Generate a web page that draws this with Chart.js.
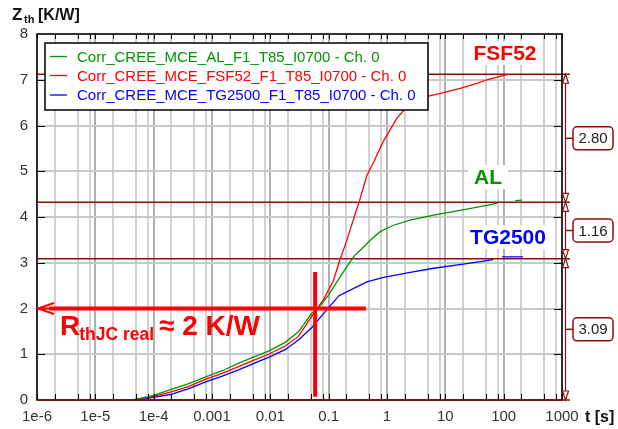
<!DOCTYPE html>
<html>
<head>
<meta charset="utf-8">
<script src="https://cdn.jsdelivr.net/npm/chart.js@4.4.0/dist/chart.umd.min.js"></script>
<style>
  html, body { margin: 0; padding: 0; background: #fff; }
  canvas { display: block; }
</style>
</head>
<body>
<canvas id="zthChart" width="618" height="429"></canvas>
<script>
// Zth curves: time in s, Zth in K/W (null = gap in the trace)
var alTime = [4.2e-5, 5.5e-5, 1e-4, 2e-4, 4e-4, 7.6e-4, 1.5e-3, 2.84e-3, 5e-3, 9.3e-3, 0.018, 0.0303, 0.051, 0.0714, 0.1, 0.157, 0.266, 0.4, 0.515, 0.764, 1.29, 2.5, 6.3, 23.4, 76.7, 120, 158, 206];
var alZth = [0, 0.03, 0.10, 0.23, 0.36, 0.50, 0.64, 0.80, 0.93, 1.07, 1.26, 1.49, 1.89, 2.06, 2.30, 2.69, 3.13, 3.35, 3.49, 3.68, 3.82, 3.93, 4.04, 4.17, 4.30, null, 4.36, 4.37];

var fsfTime = [4.5e-5, 1e-4, 2e-4, 4e-4, 7.6e-4, 1.5e-3, 2.84e-3, 5e-3, 9.3e-3, 0.018, 0.0303, 0.051, 0.082, 0.12, 0.15, 0.2, 0.274, 0.33, 0.45, 0.6, 0.87, 1.48, 2.2, 3.7, 8.2, 18, 34.6, 52, 89, 120];
var fsfZth = [0, 0.08, 0.18, 0.30, 0.45, 0.58, 0.73, 0.86, 1.00, 1.18, 1.39, 1.82, 2.20, 2.60, 3.00, 3.45, 4.00, 4.31, 4.90, 5.22, 5.66, 6.16, 6.41, 6.60, 6.70, 6.81, 6.92, 7.00, 7.08, 7.12];

var tgTime = [5e-5, 1e-4, 2e-4, 4e-4, 7.6e-4, 1.5e-3, 2.84e-3, 5e-3, 9.3e-3, 0.018, 0.0303, 0.051, 0.0714, 0.1, 0.15, 0.234, 0.452, 0.87, 2.5, 6.3, 23.4, 66, 80, 94, 214];
var tgZth = [0, 0.06, 0.125, 0.25, 0.39, 0.52, 0.66, 0.79, 0.93, 1.10, 1.31, 1.58, 1.80, 2.02, 2.28, 2.40, 2.58, 2.68, 2.79, 2.88, 2.98, 3.07, null, 3.13, 3.13];

var seriesLabels = [
  'Corr_CREE_MCE_AL_F1_T85_I0700 - Ch. 0',
  'Corr_CREE_MCE_FSF52_F1_T85_I0700 - Ch. 0',
  'Corr_CREE_MCE_TG2500_F1_T85_I0700 - Ch. 0'
];
var seriesColors = ['#009600', '#ff0000', '#0000ff'];
var curveNames = ['AL', 'FSF52', 'TG2500'];

// x axis: decades with minor lines at 2, 5, 8
var decadeValues = [1e-6, 1e-5, 1e-4, 1e-3, 0.01, 0.1, 1, 10, 100, 1000];
var decadeLabels = ['1e-6', '1e-5', '1e-4', '0.001', '0.01', '0.1', '1', '10', '100', '1000'];
var minorSteps = [2, 5, 8];

// steady-state levels (K/W) and the differences written in the boxes
var levelFSF = 7.12;
var levelAL = 4.32;
var levelTG = 3.09;
var stepLabels = ['2.80', '1.16', '3.09'];

// Rth,JC read-out
var rthTime = 0.0586;
var rthValue = 2;
var rthArrowEnd = 0.435;

var FONT = '"Liberation Sans", Arial, sans-serif';
var DARKRED = '#8b0f0f';

function pts(xs, ys) {
  return xs.map(function(x, i) { return { x: x, y: ys[i] }; });
}

var decor = {
  id: 'decor',
  // level lines sit under the traces
  beforeDatasetsDraw: function(chart) {
    var c = chart.ctx;
    var a = chart.chartArea;
    var ys = chart.scales.y;
    c.save();
    c.strokeStyle = DARKRED;
    c.lineWidth = 1.5;
    [levelFSF, levelAL, levelTG].forEach(function(l) {
      var py = ys.getPixelForValue(l);
      c.beginPath(); c.moveTo(a.left, py); c.lineTo(a.right + 8, py); c.stroke();
    });
    c.restore();
  },
  afterDatasetsDraw: function(chart) {
    var c = chart.ctx;
    var a = chart.chartArea;
    var xs = chart.scales.x, ys = chart.scales.y;
    c.save();

    // frame
    c.strokeStyle = '#000';
    c.lineWidth = 1.5;
    c.strokeRect(a.left, a.top, a.right - a.left, a.bottom - a.top);

    // inner tick marks
    c.lineWidth = 1;
    c.beginPath();
    xs.ticks.forEach(function(t) {
      var px = Math.round(xs.getPixelForValue(t.value)) + 0.5;
      c.moveTo(px, a.bottom); c.lineTo(px, a.bottom - 6);
      c.moveTo(px, a.top); c.lineTo(px, a.top + 5);
    });
    for (var v = 1; v < 8; v++) {
      var py = Math.round(ys.getPixelForValue(v)) + 0.5;
      c.moveTo(a.left, py); c.lineTo(a.left + 8, py);
      c.moveTo(a.right, py); c.lineTo(a.right - 8, py);
    }
    c.stroke();

    // zero level
    c.strokeStyle = DARKRED;
    c.lineWidth = 1.5;
    var p0 = ys.getPixelForValue(0);
    c.beginPath(); c.moveTo(a.left, p0); c.lineTo(a.right + 8, p0); c.stroke();

    // dimension line on the right
    var bx = a.right + 3.5;
    c.lineWidth = 1.2;
    c.beginPath();
    c.moveTo(bx, ys.getPixelForValue(levelFSF));
    c.lineTo(bx, ys.getPixelForValue(0));
    c.stroke();
    function tri(py, up) {
      var d = up ? 1 : -1;
      c.beginPath();
      c.moveTo(bx, py);
      c.lineTo(bx - 3, py + d * 9);
      c.lineTo(bx + 3, py + d * 9);
      c.closePath();
      c.fillStyle = '#fff'; c.fill();
      c.stroke();
    }
    tri(ys.getPixelForValue(levelFSF), true);
    tri(ys.getPixelForValue(levelAL), false);
    tri(ys.getPixelForValue(levelAL), true);
    tri(ys.getPixelForValue(levelTG), false);
    tri(ys.getPixelForValue(levelTG), true);
    tri(ys.getPixelForValue(0), false);

    var spans = [[levelFSF, levelAL], [levelAL, levelTG], [levelTG, 0]];
    spans.forEach(function(s, i) {
      var cy = (ys.getPixelForValue(s[0]) + ys.getPixelForValue(s[1])) / 2;
      c.strokeStyle = DARKRED;
      c.lineWidth = 1.5;
      c.beginPath(); c.moveTo(bx, cy); c.lineTo(573, cy); c.stroke();
      var w = 40, h = 23, x0 = 573, y0 = cy - h / 2;
      c.beginPath();
      c.roundRect(x0, y0, w, h, 4);
      c.fillStyle = '#fff'; c.fill();
      c.stroke();
      c.fillStyle = '#222';
      c.font = '15px ' + FONT;
      c.textAlign = 'center'; c.textBaseline = 'middle';
      c.fillText(stepLabels[i], x0 + w / 2, cy + 1);
    });

    // curve names
    function tag(text, color, cx, cy) {
      c.font = 'bold 21px ' + FONT;
      var w = c.measureText(text).width;
      c.fillStyle = '#fff';
      c.fillRect(cx - w / 2 - 6, cy - 12, w + 12, 24);
      c.fillStyle = color;
      c.textAlign = 'center'; c.textBaseline = 'middle';
      c.fillText(text, cx, cy + 1);
    }
    tag(curveNames[1], seriesColors[1], 505, 53);
    tag(curveNames[0], seriesColors[0], 488, 177);
    tag(curveNames[2], seriesColors[2], 508, 237);

    // Rth,JC cross and arrow
    var rx = xs.getPixelForValue(rthTime);
    var ry = ys.getPixelForValue(rthValue);
    var lx = xs.getPixelForValue(decadeValues[0]);
    c.strokeStyle = '#ff0000';
    c.lineWidth = 4;
    c.beginPath();
    c.moveTo(rx, ys.getPixelForValue(2.8)); c.lineTo(rx, ys.getPixelForValue(0.07));
    c.moveTo(lx + 12, ry); c.lineTo(xs.getPixelForValue(rthArrowEnd), ry);
    c.stroke();
    c.lineWidth = 2;
    c.beginPath();
    c.moveTo(lx + 1, ry); c.lineTo(lx + 14, ry);
    c.moveTo(lx + 17, ry - 5.5); c.lineTo(lx + 1, ry); c.lineTo(lx + 17, ry + 5.5);
    c.stroke();

    c.fillStyle = '#ff0000';
    c.textAlign = 'left'; c.textBaseline = 'alphabetic';
    c.font = 'bold 28px ' + FONT;
    c.fillText('R', 60, 335);
    var rw = c.measureText('R').width;
    c.font = 'bold 17.5px ' + FONT;
    c.fillText('thJC real', 60 + rw - 1, 340);
    var sw = c.measureText('thJC real').width;
    c.font = 'bold 28px ' + FONT;
    c.fillText('\u2248 2 K/W', 60 + rw + sw + 4, 335);

    // legend
    c.fillStyle = '#fff';
    c.fillRect(45, 43, 383, 67);
    c.strokeStyle = '#000';
    c.lineWidth = 1.5;
    c.strokeRect(45, 43, 383, 67);
    var rowsY = [56.5, 75.5, 95];
    chart.data.datasets.forEach(function(ds, i) {
      c.strokeStyle = ds.borderColor;
      c.lineWidth = 1.3;
      c.beginPath(); c.moveTo(50, rowsY[i]); c.lineTo(67, rowsY[i]); c.stroke();
      c.fillStyle = ds.borderColor;
      c.font = '15px ' + FONT;
      c.textAlign = 'left'; c.textBaseline = 'middle';
      c.fillText(ds.label, 77, rowsY[i] + 1);
    });

    // axis titles
    c.fillStyle = '#111';
    c.textBaseline = 'alphabetic';
    c.font = 'bold 17px ' + FONT;
    c.fillText('Z', 12, 20);
    c.font = 'bold 11px ' + FONT;
    c.fillText('th', 24, 23);
    c.font = 'bold 16px ' + FONT;
    c.fillText('[K/W]', 38, 20);
    c.fillText('t [s]', 585, 422);

    c.restore();
  }
};

var ctx = document.getElementById('zthChart').getContext('2d');
var zthChart = new Chart(ctx, {
  type: 'line',
  data: {
    datasets: [
      { label: seriesLabels[0], data: pts(alTime, alZth), borderColor: seriesColors[0] },
      { label: seriesLabels[1], data: pts(fsfTime, fsfZth), borderColor: seriesColors[1] },
      { label: seriesLabels[2], data: pts(tgTime, tgZth), borderColor: seriesColors[2] }
    ]
  },
  options: {
    responsive: false,
    animation: false,
    maintainAspectRatio: false,
    layout: { padding: { top: 34, right: 56, left: 0, bottom: 0 } },
    elements: {
      line: { borderWidth: 1.3, tension: 0, fill: false },
      point: { radius: 0 }
    },
    plugins: {
      legend: { display: false },
      tooltip: { enabled: false }
    },
    scales: {
      x: {
        type: 'logarithmic',
        min: 1e-6,
        max: 1000,
        afterBuildTicks: function(scale) {
          var ticks = [];
          decadeValues.forEach(function(v, i) {
            ticks.push({ value: v, major: true });
            if (i < decadeValues.length - 1) {
              minorSteps.forEach(function(m) { ticks.push({ value: v * m, major: false }); });
            }
          });
          scale.ticks = ticks;
        },
        afterFit: function(scale) { scale.height = 29; },
        ticks: {
          autoSkip: false,
          maxRotation: 0,
          padding: 8,
          color: '#333',
          font: { family: FONT, size: 15 },
          callback: function(value) {
            var i = decadeValues.indexOf(value);
            return i >= 0 ? decadeLabels[i] : '';
          }
        },
        grid: {
          drawTicks: false,
          lineWidth: 2,
          color: function(c) { return c.tick && c.tick.major ? '#b0b0b0' : '#d2d2d2'; }
        },
        border: { display: false }
      },
      y: {
        min: 0,
        max: 8,
        afterFit: function(scale) { scale.width = 37; },
        ticks: {
          stepSize: 1,
          padding: 9,
          color: '#333',
          font: { family: FONT, size: 15 }
        },
        grid: { drawTicks: false, lineWidth: 2, color: '#c8c8c8' },
        border: { display: false }
      }
    }
  },
  plugins: [decor]
});
</script>
</body>
</html>
